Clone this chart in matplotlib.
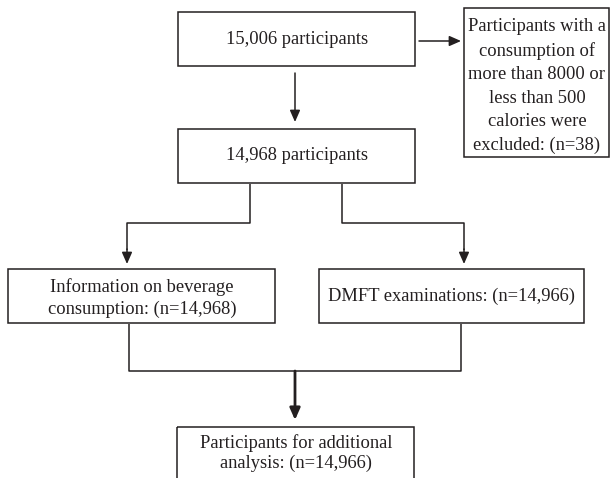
import matplotlib.pyplot as plt
from matplotlib.patches import Rectangle

# Тексты блоков схемы
labels = [
    "15,006 participants",
    "Participants with a\nconsumption of\nmore than 8000 or\nless than 500\ncalories were\nexcluded: (n=38)",
    "14,968 participants",
    "Information on beverage\nconsumption: (n=14,968)",
    "DMFT examinations: (n=14,966)",
    "Participants for additional\nanalysis: (n=14,966)",
]

# Геометрия блоков в пикселях: x0, y0, x1, y1
boxes = [
    (178, 12, 415, 66),
    (464, 8, 609, 157),
    (178, 129, 415, 183),
    (8, 269, 275, 323),
    (319, 269, 584, 323),
    (177, 427, 414, 490),
]
# Межстрочный интервал и центр текста по вертикали
spacing = [1.2, 1.5, 1.2, 1.3, 1.2, 1.2]
text_y = [39, 86, 156, 298, 296, 453]

plt.rcParams['font.family'] = ['Liberation Serif', 'DejaVu Serif']

fig = plt.figure(figsize=(6.11, 4.78), dpi=100)
ax = fig.add_axes([0, 0, 1, 1])
ax.set_xlim(0, 611)
ax.set_ylim(478, 0)
ax.axis('off')

col = '#231f20'

for (x0, y0, x1, y1), txt, ls, ty in zip(boxes, labels, spacing, text_y):
    ax.add_patch(Rectangle((x0, y0), x1 - x0, y1 - y0, fill=False,
                           edgecolor=col, linewidth=1.1, clip_on=False))
    ax.text((x0 + x1) / 2 + 0.5, ty, txt, ha='center', va='center',
            fontsize=13.3, color=col, linespacing=ls)


def arrow(p0, p1, lw=1.1, head=7):
    ax.annotate('', xy=p1, xytext=p0,
                arrowprops=dict(arrowstyle='-|>,head_length=0.5,head_width=0.22',
                                color=col, lw=lw, shrinkA=0, shrinkB=0,
                                mutation_scale=head * 2))


def line(xs, ys, lw=1.1):
    ax.plot(xs, ys, color=col, lw=lw, solid_capstyle='butt')


# Стрелки верхней части
arrow((419, 41), (461, 41))
arrow((295, 73), (295, 122))

# Разветвление
line([250, 250, 127, 127], [184, 223, 223, 250])
arrow((127, 249), (127, 264))
line([342, 342, 464, 464], [184, 223, 223, 250])
arrow((464, 249), (464, 264))

# Слияние
line([129, 129, 461, 461], [324, 371, 371, 324])
arrow((295, 371), (295, 420), lw=2.0)

fig.savefig('out.png', dpi=100)
